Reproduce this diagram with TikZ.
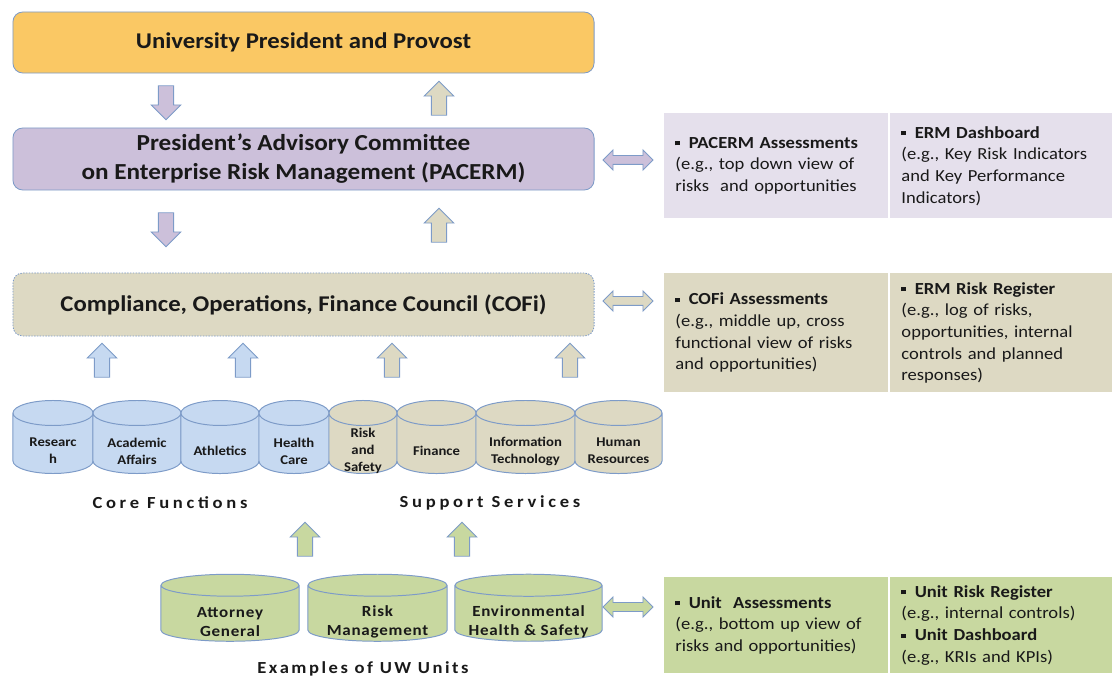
\documentclass[tikz,border=0pt]{standalone}
\usepackage{fontspec}
\setmainfont{Carlito}[FakeStretch=1.1]
\newfontfamily\unitfont[FakeStretch=1.1,LetterSpace=5]{Carlito}
\newfontfamily\spacedfont[FakeStretch=1.1,LetterSpace=15]{Carlito}
\newfontfamily\widefont[FakeStretch=1.1,LetterSpace=22]{Carlito}
\usetikzlibrary{shapes.geometric,shapes.arrows}
\definecolor{uworange}{RGB}{250,200,100}
\definecolor{uwlavender}{RGB}{204,192,218}
\definecolor{uwlilac}{RGB}{229,224,236}
\definecolor{uwbeige}{RGB}{221,217,195}
\definecolor{uwblue}{RGB}{198,217,241}
\definecolor{uwgreen}{RGB}{200,216,160}
\definecolor{uwedge}{RGB}{125,155,200}
\definecolor{uwtext}{RGB}{25,25,25}
\newcommand{\sqb}{\rule[0.35ex]{0.5ex}{0.5ex}\hspace{0.55em}}

\tikzset{
  levelbox/.style={rectangle, rounded corners=7pt, draw=uwedge, line width=0.6pt,
    minimum width=14.525cm, minimum height=1.55cm, align=center, text=uwtext,
    font=\fontsize{16}{20.5}\selectfont\bfseries},
  unit/.style={cylinder, shape border rotate=90, draw=uwedge, line width=0.7pt,
    inner sep=0pt, text width=#1, minimum width=#1, minimum height=1.825cm},
  unittext/.style={align=center, text=uwtext, yshift=-0.19cm,
    font=\fontsize{9.5}{12}\selectfont\bfseries},
  bigunit/.style={unit=#1, minimum height=1.675cm},
  bigunittext/.style={unittext, yshift=-0.02cm, font=\fontsize{11}{13.5}\unitfont\bfseries},
  uparr/.style={single arrow, shape border rotate=90, draw=uwedge, line width=0.6pt,
    inner sep=0.18cm, minimum height=0.85cm, minimum width=0.72cm,
    single arrow head extend=0.18cm},
  dnarr/.style={uparr, shape border rotate=270},
  twoarr/.style={double arrow, draw=uwedge, line width=0.6pt, inner sep=0.1cm,
    minimum height=1.25cm, minimum width=0.5cm, double arrow head extend=0.14cm},
  cell/.style={rectangle, minimum height=#1, anchor=north west, align=left, text=uwtext,
    inner xsep=0.28cm, font=\fontsize{12}{15.4}\selectfont},
  lcell/.style={cell=#1, minimum width=5.6cm, text width=5.04cm},
  rcell/.style={cell=#1, minimum width=5.55cm, text width=4.99cm},
  grouplabel/.style={text=uwtext, font=\fontsize{12}{14}\widefont\bfseries}
}

\begin{document}
\begin{tikzpicture}[x=0.025cm, y=-0.025cm]
    \useasboundingbox (0,0) rectangle (1112,681);

    % Levels
    \node[levelbox, fill=uworange, minimum height=1.525cm] (top) at (303.5,42.5) {University President and Provost};
    \node[levelbox, fill=uwlavender, font=\fontsize{16.3}{20.5}\selectfont\bfseries] (pacerm) at (303.5,159) {President's Advisory Committee\\on Enterprise Risk Management (PACERM)};
    \node[levelbox, fill=uwbeige, dash pattern=on 1pt off 1pt, minimum height=1.575cm] (cofi) at (303.5,304.5) {Compliance, Operations, Finance Council (COFi)};

    % Arrows between levels
    \node[dnarr, fill=uwlavender] (dn1) at (166,99) {};
    \node[uparr, fill=uwbeige] (up1) at (439,102) {};
    \node[dnarr, fill=uwlavender] (dn2) at (166,226) {};
    \node[uparr, fill=uwbeige] (up2) at (439,229) {};
    \node[uparr, fill=uwblue] (upa) at (102,364) {};
    \node[uparr, fill=uwblue] (upb) at (243,364) {};
    \node[uparr, fill=uwbeige] (upc) at (392,364) {};
    \node[uparr, fill=uwbeige] (upd) at (570,364) {};

    % Core functions and support services
    \node[unit=2cm, fill=uwblue, aspect=0.3125, label={[unittext]center:Researc\\h}] (research) at (53,443.5) {};
    \node[unit=2.2cm, fill=uwblue, aspect=0.284, label={[unittext]center:Academic\\Affairs}] (academic) at (137,443.5) {};
    \node[unit=1.95cm, fill=uwblue, aspect=0.32, label={[unittext]center:Athletics}] (athletics) at (220,443.5) {};
    \node[unit=1.75cm, fill=uwblue, aspect=0.357, label={[unittext]center:Health\\Care}] (health) at (294,443.5) {};
    \node[unit=1.7cm, fill=uwbeige, aspect=0.368, label={[unittext]center:Risk\\and\\Safety}] (safety) at (363,443.5) {};
    \node[unit=1.975cm, fill=uwbeige, aspect=0.316, label={[unittext]center:Finance}] (finance) at (436.5,443.5) {};
    \node[unit=2.475cm, fill=uwbeige, aspect=0.2525, label={[unittext]center:Information\\Technology}] (infotech) at (525.5,443.5) {};
    \node[unit=2.175cm, fill=uwbeige, aspect=0.287, label={[unittext]center:Human\\Resources}] (hr) at (618.5,443.5) {};

    \node[grouplabel] (core) at (170,503) {Core Functions};
    \node[grouplabel] (support) at (490,503) {Support Services};

    % UW units
    \node[uparr, fill=uwgreen] (upe) at (305,543) {};
    \node[uparr, fill=uwgreen] (upf) at (462,543) {};
    \node[bigunit=3.45cm, fill=uwgreen, aspect=0.159, label={[bigunittext]center:Attorney\\General}] (attorney) at (230,613.5) {};
    \node[bigunit=3.475cm, fill=uwgreen, aspect=0.158, label={[bigunittext]center:Risk\\Management}] (riskmgmt) at (377.5,613.5) {};
    \node[bigunit=3.675cm, fill=uwgreen, aspect=0.15, label={[bigunittext]center:Environmental\\Health \& Safety}] (ehs) at (528.5,613.5) {};
    \node[grouplabel, font=\fontsize{12}{14}\spacedfont\bfseries] (examples) at (363,669) {Examples of UW Units};

    % Links to the reporting panels
    \node[twoarr, fill=uwlavender] (link1) at (628,160) {};
    \node[twoarr, fill=uwbeige] (link2) at (628,301) {};
    \node[twoarr, fill=uwgreen] (link3) at (628,607) {};

    % Reporting panels
    \node[lcell=2.625cm, fill=uwlilac] (pacl) at (664,113) {\sqb\textbf{PACERM Assessments}\\(e.g., top down view of\\risks\ \ and opportunities};
    \node[rcell=2.625cm, fill=uwlilac] (pacr) at (890,113) {\sqb\textbf{ERM Dashboard}\\(e.g., Key Risk Indicators\\and Key Performance\\Indicators)};
    \node[lcell=2.975cm, fill=uwbeige] (cofil) at (664,273) {\sqb\textbf{COFi Assessments}\\(e.g., middle up, cross\\functional view of risks\\and opportunities)};
    \node[rcell=2.975cm, fill=uwbeige] (cofir) at (890,273) {\sqb\textbf{ERM Risk Register}\\(e.g., log of risks,\\opportunities, internal\\controls and planned\\responses)};
    \node[lcell=2.4cm, fill=uwgreen] (unitl) at (664,577) {\sqb\textbf{Unit\ \ Assessments}\\(e.g., bottom up view of\\risks and opportunities)};
    \node[rcell=2.4cm, fill=uwgreen] (unitr) at (890,577) {\sqb\textbf{Unit Risk Register}\\(e.g., internal controls)\\\sqb\textbf{Unit Dashboard}\\(e.g., KRIs\ and KPIs)};
\end{tikzpicture}
\end{document}
